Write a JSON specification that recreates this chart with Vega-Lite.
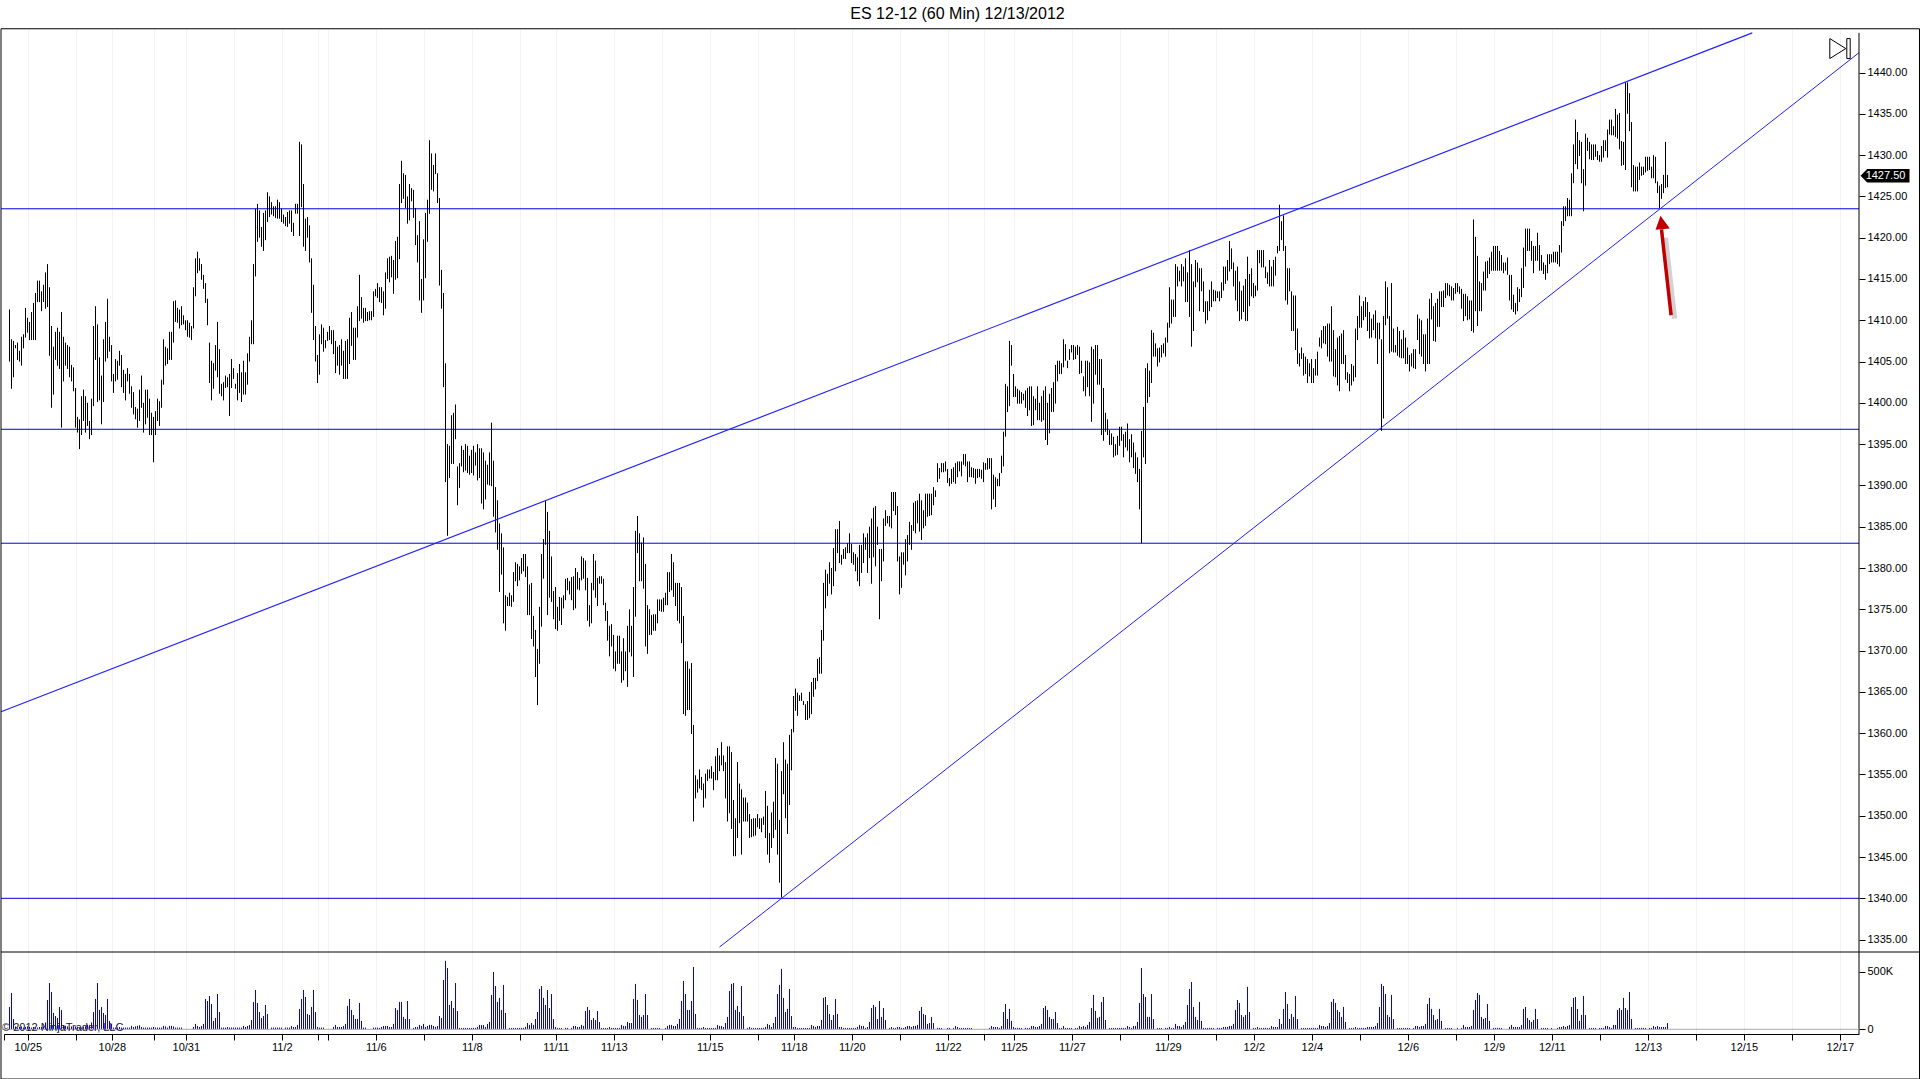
{"$schema":"https://vega.github.io/schema/vega-lite/v6.json","background":"white","padding":{"left":-2,"top":6,"right":0,"bottom":0},"config":{"view":{"stroke":null},"font":"Liberation Sans"},"datasets":{
"bars":[{"i":4,"h":1411.3,"l":1405,"v":195},{"i":5,"h":1407.7,"l":1401.7,"v":317},{"i":6,"h":1407.5,"l":1403.1,"v":90},{"i":7,"h":1407,"l":1406.6,"v":25},{"i":8,"h":1407.3,"l":1405.2,"v":15},{"i":9,"h":1406.3,"l":1405,"v":20},{"i":10,"h":1408,"l":1404.5,"v":25},{"i":11,"h":1408.3,"l":1406.6,"v":15},{"i":12,"h":1411.5,"l":1407.9,"v":20},{"i":13,"h":1410.3,"l":1408.5,"v":25},{"i":14,"h":1409.8,"l":1407.6,"v":20},{"i":15,"h":1411,"l":1407.6,"v":15},{"i":16,"h":1412.1,"l":1407.6,"v":20},{"i":17,"h":1413.3,"l":1407.6,"v":15},{"i":18,"h":1414.8,"l":1412.2,"v":15},{"i":19,"h":1414.8,"l":1412.2,"v":20},{"i":20,"h":1413.5,"l":1411.1,"v":20},{"i":21,"h":1414.3,"l":1412.2,"v":25},{"i":22,"h":1415.8,"l":1411.4,"v":60},{"i":23,"h":1416.8,"l":1411.6,"v":256},{"i":24,"h":1414,"l":1405.7,"v":404},{"i":25,"h":1409.3,"l":1399.4,"v":326},{"i":26,"h":1406.8,"l":1401,"v":143},{"i":27,"h":1408.6,"l":1405.2,"v":116},{"i":28,"h":1409.1,"l":1404.5,"v":99},{"i":29,"h":1408.6,"l":1404.1,"v":195},{"i":30,"h":1411,"l":1397,"v":169},{"i":31,"h":1408,"l":1402.6,"v":35},{"i":32,"h":1407.3,"l":1404.5,"v":30},{"i":33,"h":1407,"l":1404.1,"v":25},{"i":34,"h":1406.8,"l":1403.1,"v":15},{"i":35,"h":1404.6,"l":1402.6,"v":25},{"i":36,"h":1404.3,"l":1401.4,"v":20},{"i":37,"h":1401.8,"l":1397,"v":25},{"i":38,"h":1398.3,"l":1396.4,"v":20},{"i":39,"h":1398,"l":1394.4,"v":15},{"i":40,"h":1400.8,"l":1396.1,"v":15},{"i":41,"h":1401.6,"l":1397.8,"v":20},{"i":42,"h":1400.8,"l":1396.4,"v":25},{"i":43,"h":1400,"l":1397.2,"v":40},{"i":44,"h":1397.8,"l":1395.6,"v":35},{"i":45,"h":1400.5,"l":1396.1,"v":60},{"i":46,"h":1409.3,"l":1399.6,"v":150},{"i":47,"h":1411.7,"l":1405.2,"v":265},{"i":48,"h":1409.5,"l":1400.1,"v":404},{"i":49,"h":1405.5,"l":1400.3,"v":169},{"i":50,"h":1403.3,"l":1397.4,"v":195},{"i":51,"h":1407.7,"l":1400.1,"v":143},{"i":52,"h":1409.8,"l":1405,"v":125},{"i":53,"h":1412.6,"l":1405.4,"v":265},{"i":54,"h":1408,"l":1406.2,"v":73},{"i":55,"h":1407,"l":1402.6,"v":47},{"i":56,"h":1403.5,"l":1401.2,"v":15},{"i":57,"h":1405.3,"l":1402.6,"v":15},{"i":58,"h":1405.1,"l":1402.8,"v":15},{"i":59,"h":1406.3,"l":1404.5,"v":20},{"i":60,"h":1405.8,"l":1401.9,"v":15},{"i":61,"h":1404,"l":1401.2,"v":15},{"i":62,"h":1403.5,"l":1400.3,"v":15},{"i":63,"h":1404.2,"l":1402.6,"v":15},{"i":64,"h":1403.5,"l":1401.1,"v":15},{"i":65,"h":1402,"l":1399.4,"v":30},{"i":66,"h":1401.3,"l":1398.6,"v":20},{"i":67,"h":1399.5,"l":1398,"v":25},{"i":68,"h":1399.3,"l":1397,"v":30},{"i":69,"h":1401.6,"l":1397.8,"v":35},{"i":70,"h":1403.3,"l":1399.4,"v":20},{"i":71,"h":1400,"l":1396.4,"v":15},{"i":72,"h":1401.6,"l":1397.4,"v":15},{"i":73,"h":1401.6,"l":1398.2,"v":15},{"i":74,"h":1400.5,"l":1396.1,"v":15},{"i":75,"h":1398.8,"l":1396.1,"v":15},{"i":76,"h":1398.3,"l":1392.8,"v":20},{"i":77,"h":1399,"l":1396.1,"v":15},{"i":78,"h":1400.5,"l":1397.8,"v":15},{"i":79,"h":1400.2,"l":1397.2,"v":15},{"i":80,"h":1402.8,"l":1399.4,"v":15},{"i":81,"h":1407.7,"l":1402.2,"v":30},{"i":82,"h":1406.8,"l":1404.5,"v":25},{"i":83,"h":1406.6,"l":1404.7,"v":15},{"i":84,"h":1408.6,"l":1405.2,"v":30},{"i":85,"h":1408.6,"l":1405.2,"v":30},{"i":86,"h":1412.3,"l":1407.3,"v":25},{"i":87,"h":1412.4,"l":1409.8,"v":15},{"i":88,"h":1411.5,"l":1409.7,"v":15},{"i":89,"h":1411.3,"l":1409,"v":15},{"i":90,"h":1411.7,"l":1409.4,"v":15},{"i":91,"h":1410.6,"l":1409.5,"v":0},{"i":92,"h":1410,"l":1408.8,"v":0},{"i":93,"h":1410,"l":1408,"v":0},{"i":94,"h":1409.7,"l":1407.9,"v":0},{"i":95,"h":1409.3,"l":1407.6,"v":0},{"i":96,"h":1414,"l":1409,"v":20},{"i":97,"h":1417.5,"l":1412.9,"v":47},{"i":98,"h":1418.3,"l":1415.7,"v":29},{"i":99,"h":1417.5,"l":1416,"v":20},{"i":100,"h":1416.8,"l":1414.9,"v":29},{"i":101,"h":1415.5,"l":1413.8,"v":47},{"i":102,"h":1414.5,"l":1412.1,"v":265},{"i":103,"h":1412.6,"l":1409.4,"v":247},{"i":104,"h":1407.3,"l":1402.4,"v":291},{"i":105,"h":1405.1,"l":1400.3,"v":221},{"i":106,"h":1404.8,"l":1401.7,"v":73},{"i":107,"h":1407,"l":1403.9,"v":99},{"i":108,"h":1409.8,"l":1403.1,"v":308},{"i":109,"h":1406.5,"l":1401.1,"v":151},{"i":110,"h":1402.3,"l":1400.8,"v":15},{"i":111,"h":1402.5,"l":1400.3,"v":15},{"i":112,"h":1403.3,"l":1401.8,"v":15},{"i":113,"h":1403.1,"l":1401.9,"v":20},{"i":114,"h":1403.5,"l":1398.4,"v":15},{"i":115,"h":1405.3,"l":1401.8,"v":15},{"i":116,"h":1404.2,"l":1402.9,"v":15},{"i":117,"h":1402.3,"l":1401.7,"v":15},{"i":118,"h":1403.6,"l":1400.3,"v":15},{"i":119,"h":1404.7,"l":1401.2,"v":15},{"i":120,"h":1403.7,"l":1400.1,"v":15},{"i":121,"h":1405.1,"l":1401,"v":29},{"i":122,"h":1403.7,"l":1401,"v":20},{"i":123,"h":1406,"l":1402.2,"v":29},{"i":124,"h":1408,"l":1405,"v":38},{"i":125,"h":1410,"l":1407.1,"v":81},{"i":126,"h":1416.8,"l":1407.1,"v":239},{"i":127,"h":1423.5,"l":1415.3,"v":343},{"i":128,"h":1424.1,"l":1419.5,"v":230},{"i":129,"h":1423.3,"l":1420,"v":151},{"i":130,"h":1421.3,"l":1418.9,"v":99},{"i":131,"h":1423,"l":1418.4,"v":116},{"i":132,"h":1423.3,"l":1419.7,"v":212},{"i":133,"h":1425.5,"l":1421.9,"v":134},{"i":134,"h":1425,"l":1422.5,"v":0},{"i":135,"h":1424.3,"l":1422.8,"v":15},{"i":136,"h":1423.8,"l":1422.6,"v":15},{"i":137,"h":1423.8,"l":1422.4,"v":15},{"i":138,"h":1424.6,"l":1422.3,"v":15},{"i":139,"h":1424.3,"l":1422.3,"v":15},{"i":140,"h":1423.5,"l":1421.9,"v":15},{"i":141,"h":1422.8,"l":1421.7,"v":0},{"i":142,"h":1422.5,"l":1421.4,"v":15},{"i":143,"h":1423.1,"l":1421.3,"v":15},{"i":144,"h":1423.3,"l":1421.7,"v":15},{"i":145,"h":1423.3,"l":1420.7,"v":29},{"i":146,"h":1421.8,"l":1420.2,"v":20},{"i":147,"h":1424.1,"l":1422.9,"v":20},{"i":148,"h":1424.1,"l":1422.9,"v":38},{"i":149,"h":1431.6,"l":1420.2,"v":177},{"i":150,"h":1431.3,"l":1423.7,"v":265},{"i":151,"h":1426.5,"l":1418.9,"v":343},{"i":152,"h":1422.3,"l":1418.4,"v":282},{"i":153,"h":1422.5,"l":1420,"v":134},{"i":154,"h":1421.5,"l":1417,"v":125},{"i":155,"h":1417.5,"l":1410.9,"v":195},{"i":156,"h":1414.3,"l":1407.6,"v":343},{"i":157,"h":1409.3,"l":1405,"v":151},{"i":158,"h":1405.8,"l":1402.4,"v":20},{"i":159,"h":1408.3,"l":1403.4,"v":15},{"i":160,"h":1409.5,"l":1407.1,"v":15},{"i":161,"h":1409.1,"l":1406.2,"v":15},{"i":162,"h":1407.6,"l":1406.6,"v":0},{"i":163,"h":1408.6,"l":1407.5,"v":0},{"i":164,"h":1409.3,"l":1407.6,"v":0},{"i":165,"h":1408.8,"l":1407.1,"v":0},{"i":166,"h":1408.8,"l":1405.9,"v":20},{"i":167,"h":1407.5,"l":1403.6,"v":38},{"i":168,"h":1406.8,"l":1404.5,"v":20},{"i":169,"h":1407,"l":1403.4,"v":20},{"i":170,"h":1407.7,"l":1404.5,"v":20},{"i":171,"h":1406.3,"l":1402.9,"v":29},{"i":172,"h":1407.5,"l":1402.9,"v":47},{"i":173,"h":1407.7,"l":1402.9,"v":204},{"i":174,"h":1410.3,"l":1404.7,"v":265},{"i":175,"h":1411,"l":1406.9,"v":169},{"i":176,"h":1409.1,"l":1405.2,"v":125},{"i":177,"h":1409.1,"l":1405.2,"v":90},{"i":178,"h":1411.7,"l":1407.9,"v":90},{"i":179,"h":1415.5,"l":1409.9,"v":230},{"i":180,"h":1412.8,"l":1410.2,"v":73},{"i":181,"h":1411.5,"l":1409.7,"v":15},{"i":182,"h":1411.5,"l":1409.9,"v":15},{"i":183,"h":1411,"l":1409.9,"v":0},{"i":184,"h":1411.1,"l":1410,"v":0},{"i":185,"h":1411.1,"l":1410,"v":0},{"i":186,"h":1413.5,"l":1410.4,"v":15},{"i":187,"h":1413.8,"l":1412.9,"v":15},{"i":188,"h":1414.5,"l":1412.7,"v":15},{"i":189,"h":1414,"l":1412.2,"v":12},{"i":190,"h":1414,"l":1412.1,"v":20},{"i":191,"h":1413.5,"l":1410.6,"v":29},{"i":192,"h":1415.8,"l":1411.4,"v":29},{"i":193,"h":1417.5,"l":1415,"v":29},{"i":194,"h":1417.7,"l":1414.6,"v":20},{"i":195,"h":1417.8,"l":1415.2,"v":20},{"i":196,"h":1417.3,"l":1413.2,"v":47},{"i":197,"h":1419.6,"l":1414.9,"v":186},{"i":198,"h":1420.1,"l":1415.1,"v":169},{"i":199,"h":1426.5,"l":1417.4,"v":239},{"i":200,"h":1429.3,"l":1424.2,"v":239},{"i":201,"h":1427.8,"l":1424.7,"v":108},{"i":202,"h":1427.6,"l":1423.6,"v":90},{"i":203,"h":1425,"l":1421.7,"v":247},{"i":204,"h":1426.5,"l":1422.1,"v":90},{"i":205,"h":1426,"l":1424.4,"v":0},{"i":206,"h":1425.8,"l":1422.4,"v":12},{"i":207,"h":1423.6,"l":1419.1,"v":20},{"i":208,"h":1420.3,"l":1417,"v":20},{"i":209,"h":1422,"l":1412.4,"v":38},{"i":210,"h":1415,"l":1410.9,"v":29},{"i":211,"h":1419.8,"l":1412.4,"v":47},{"i":212,"h":1423,"l":1415.1,"v":20},{"i":213,"h":1424.6,"l":1419.5,"v":29},{"i":214,"h":1431.8,"l":1422.9,"v":38},{"i":215,"h":1430.2,"l":1425.8,"v":38},{"i":216,"h":1428.8,"l":1425.6,"v":29},{"i":217,"h":1430.2,"l":1427.7,"v":20},{"i":218,"h":1427.8,"l":1424.2,"v":29},{"i":219,"h":1424.8,"l":1414.2,"v":116},{"i":220,"h":1416.1,"l":1411.4,"v":99},{"i":221,"h":1413.3,"l":1401.9,"v":431},{"i":222,"h":1404.8,"l":1390.4,"v":597},{"i":223,"h":1395,"l":1383.9,"v":535},{"i":224,"h":1394.8,"l":1390.9,"v":212},{"i":225,"h":1398.5,"l":1392.6,"v":247},{"i":226,"h":1398.8,"l":1392.6,"v":186},{"i":227,"h":1399.8,"l":1395.6,"v":404},{"i":228,"h":1392.3,"l":1387.6,"v":160},{"i":229,"h":1392.7,"l":1389.7,"v":12},{"i":230,"h":1394.8,"l":1392.3,"v":12},{"i":231,"h":1394.3,"l":1391.6,"v":12},{"i":232,"h":1395,"l":1391.8,"v":12},{"i":233,"h":1394.8,"l":1391.5,"v":12},{"i":234,"h":1393.6,"l":1391.3,"v":12},{"i":235,"h":1394.3,"l":1391.5,"v":12},{"i":236,"h":1394.8,"l":1391.2,"v":12},{"i":237,"h":1394,"l":1392.4,"v":12},{"i":238,"h":1395,"l":1390.6,"v":20},{"i":239,"h":1394.5,"l":1390.9,"v":38},{"i":240,"h":1394.5,"l":1387.8,"v":38},{"i":241,"h":1394,"l":1387.1,"v":38},{"i":242,"h":1393,"l":1388.3,"v":20},{"i":243,"h":1392.5,"l":1390.1,"v":47},{"i":244,"h":1394,"l":1390,"v":64},{"i":245,"h":1397.6,"l":1389.9,"v":300},{"i":246,"h":1393,"l":1386.2,"v":500},{"i":247,"h":1389.8,"l":1384.3,"v":378},{"i":248,"h":1388.2,"l":1382.2,"v":239},{"i":249,"h":1385.4,"l":1377.1,"v":274},{"i":250,"h":1384.2,"l":1379.2,"v":169},{"i":251,"h":1382.5,"l":1373.3,"v":387},{"i":252,"h":1376.7,"l":1372.4,"v":143},{"i":253,"h":1376.5,"l":1375.4,"v":0},{"i":254,"h":1377,"l":1375.4,"v":12},{"i":255,"h":1376.7,"l":1375.3,"v":12},{"i":256,"h":1379.5,"l":1375.9,"v":12},{"i":257,"h":1380.7,"l":1378.4,"v":12},{"i":258,"h":1380.5,"l":1377.8,"v":12},{"i":259,"h":1380.2,"l":1378.5,"v":12},{"i":260,"h":1381.2,"l":1379.3,"v":12},{"i":261,"h":1381.7,"l":1379.6,"v":12},{"i":262,"h":1381.7,"l":1378.9,"v":20},{"i":263,"h":1380.2,"l":1374.3,"v":55},{"i":264,"h":1378,"l":1374.3,"v":38},{"i":265,"h":1378.2,"l":1371.4,"v":55},{"i":266,"h":1374.2,"l":1370.5,"v":38},{"i":267,"h":1372.5,"l":1366.8,"v":90},{"i":268,"h":1370.2,"l":1363.4,"v":151},{"i":269,"h":1375.3,"l":1368.4,"v":352},{"i":270,"h":1381.7,"l":1372.9,"v":378},{"i":271,"h":1383.5,"l":1378.7,"v":274},{"i":272,"h":1388.1,"l":1382.8,"v":212},{"i":273,"h":1386.8,"l":1374.3,"v":343},{"i":274,"h":1384.5,"l":1376.4,"v":186},{"i":275,"h":1381.4,"l":1375.9,"v":308},{"i":276,"h":1377.2,"l":1373.8,"v":90},{"i":277,"h":1377.7,"l":1372.6,"v":20},{"i":278,"h":1375.3,"l":1372.4,"v":12},{"i":279,"h":1376.5,"l":1373.6,"v":12},{"i":280,"h":1376.4,"l":1373.1,"v":12},{"i":281,"h":1376.7,"l":1375.1,"v":0},{"i":282,"h":1378.7,"l":1376.1,"v":12},{"i":283,"h":1378.8,"l":1377.3,"v":12},{"i":284,"h":1378.4,"l":1376.8,"v":0},{"i":285,"h":1378.9,"l":1376.1,"v":12},{"i":286,"h":1379,"l":1374.9,"v":29},{"i":287,"h":1380,"l":1375.1,"v":29},{"i":288,"h":1379.5,"l":1377.4,"v":20},{"i":289,"h":1378.8,"l":1377.3,"v":20},{"i":290,"h":1381.4,"l":1378.5,"v":38},{"i":291,"h":1381.2,"l":1378.7,"v":29},{"i":292,"h":1380.9,"l":1377.3,"v":160},{"i":293,"h":1378.8,"l":1373.6,"v":195},{"i":294,"h":1375.5,"l":1372.9,"v":169},{"i":295,"h":1378.2,"l":1373.3,"v":81},{"i":296,"h":1381.7,"l":1377.3,"v":99},{"i":297,"h":1380.9,"l":1376.4,"v":81},{"i":298,"h":1378.8,"l":1375.4,"v":160},{"i":299,"h":1379,"l":1378.1,"v":64},{"i":300,"h":1379,"l":1378.1,"v":12},{"i":301,"h":1378.7,"l":1375.5,"v":12},{"i":302,"h":1375.8,"l":1373.6,"v":12},{"i":303,"h":1374.8,"l":1371.2,"v":12},{"i":304,"h":1373,"l":1369.3,"v":20},{"i":305,"h":1373.2,"l":1370.5,"v":12},{"i":306,"h":1371.9,"l":1367.8,"v":12},{"i":307,"h":1369.9,"l":1367.5,"v":12},{"i":308,"h":1371.8,"l":1368.4,"v":12},{"i":309,"h":1371.8,"l":1368.4,"v":12},{"i":310,"h":1369.9,"l":1366.1,"v":38},{"i":311,"h":1371.5,"l":1366.4,"v":29},{"i":312,"h":1369.9,"l":1367.5,"v":29},{"i":313,"h":1373,"l":1365.6,"v":64},{"i":314,"h":1375,"l":1369.8,"v":55},{"i":315,"h":1373,"l":1369.3,"v":55},{"i":316,"h":1377.7,"l":1366.8,"v":265},{"i":317,"h":1384.5,"l":1374.1,"v":396},{"i":318,"h":1386.3,"l":1381.8,"v":256},{"i":319,"h":1384.2,"l":1378.4,"v":125},{"i":320,"h":1383.1,"l":1378.4,"v":108},{"i":321,"h":1383.7,"l":1377.5,"v":125},{"i":322,"h":1380.5,"l":1370.5,"v":308},{"i":323,"h":1375.5,"l":1369.6,"v":125},{"i":324,"h":1375,"l":1371.9,"v":0},{"i":325,"h":1374.3,"l":1371.9,"v":12},{"i":326,"h":1374.4,"l":1372.4,"v":12},{"i":327,"h":1374.4,"l":1372.4,"v":12},{"i":328,"h":1376.2,"l":1373.3,"v":12},{"i":329,"h":1376.2,"l":1374.8,"v":12},{"i":330,"h":1376.2,"l":1374.7,"v":0},{"i":331,"h":1376.4,"l":1374.7,"v":0},{"i":332,"h":1377,"l":1375.5,"v":12},{"i":333,"h":1379.5,"l":1375.5,"v":29},{"i":334,"h":1379.5,"l":1377.1,"v":38},{"i":335,"h":1381.7,"l":1377.3,"v":38},{"i":336,"h":1380.7,"l":1376.5,"v":29},{"i":337,"h":1378.2,"l":1375.4,"v":29},{"i":338,"h":1378.2,"l":1373.6,"v":47},{"i":339,"h":1378.2,"l":1373.3,"v":90},{"i":340,"h":1377.7,"l":1370.9,"v":247},{"i":341,"h":1374.2,"l":1362.3,"v":422},{"i":342,"h":1368.7,"l":1362.1,"v":308},{"i":343,"h":1368.7,"l":1362.8,"v":169},{"i":344,"h":1367.8,"l":1362.8,"v":169},{"i":345,"h":1368.5,"l":1359.9,"v":247},{"i":346,"h":1361,"l":1349.3,"v":544},{"i":347,"h":1354.9,"l":1352.1,"v":134},{"i":348,"h":1354.4,"l":1352.8,"v":12},{"i":349,"h":1355.6,"l":1353.3,"v":12},{"i":350,"h":1354.7,"l":1353.1,"v":12},{"i":351,"h":1353.9,"l":1351,"v":20},{"i":352,"h":1355.1,"l":1352.1,"v":12},{"i":353,"h":1355.6,"l":1354.2,"v":12},{"i":354,"h":1355.6,"l":1354.5,"v":12},{"i":355,"h":1356,"l":1354.5,"v":12},{"i":356,"h":1355.3,"l":1353.1,"v":12},{"i":357,"h":1357.2,"l":1354.3,"v":12},{"i":358,"h":1358.2,"l":1354.3,"v":38},{"i":359,"h":1357.3,"l":1355.4,"v":29},{"i":360,"h":1358.9,"l":1356.1,"v":29},{"i":361,"h":1357.3,"l":1355.4,"v":20},{"i":362,"h":1356.5,"l":1352.1,"v":55},{"i":363,"h":1358.4,"l":1349.3,"v":108},{"i":364,"h":1358.4,"l":1350.3,"v":335},{"i":365,"h":1357.7,"l":1348.4,"v":396},{"i":366,"h":1351.9,"l":1345.1,"v":404},{"i":367,"h":1349.7,"l":1345.1,"v":169},{"i":368,"h":1356.5,"l":1347.3,"v":204},{"i":369,"h":1353.9,"l":1349.1,"v":151},{"i":370,"h":1353.2,"l":1345.3,"v":378},{"i":371,"h":1352.2,"l":1349.3,"v":116},{"i":372,"h":1352.2,"l":1349.3,"v":0},{"i":373,"h":1351.6,"l":1349.3,"v":12},{"i":374,"h":1350.2,"l":1347.3,"v":20},{"i":375,"h":1349.6,"l":1347.4,"v":12},{"i":376,"h":1349.7,"l":1347.5,"v":12},{"i":377,"h":1349.7,"l":1347.6,"v":12},{"i":378,"h":1350.2,"l":1348.6,"v":12},{"i":379,"h":1349.7,"l":1348.4,"v":12},{"i":380,"h":1349.7,"l":1348,"v":12},{"i":381,"h":1349.9,"l":1348.9,"v":12},{"i":382,"h":1353,"l":1347.3,"v":20},{"i":383,"h":1351.2,"l":1345.3,"v":47},{"i":384,"h":1347.9,"l":1344.3,"v":38},{"i":385,"h":1350.4,"l":1346.1,"v":20},{"i":386,"h":1351.7,"l":1347.3,"v":55},{"i":387,"h":1357,"l":1348.3,"v":108},{"i":388,"h":1356.3,"l":1345.3,"v":308},{"i":389,"h":1349.5,"l":1341.9,"v":387},{"i":390,"h":1355.4,"l":1340.1,"v":527},{"i":391,"h":1358.9,"l":1352.6,"v":274},{"i":392,"h":1356.8,"l":1349.7,"v":151},{"i":393,"h":1356.3,"l":1347.8,"v":178},{"i":394,"h":1359.8,"l":1351.3,"v":352},{"i":395,"h":1360.5,"l":1355.5,"v":116},{"i":396,"h":1364.5,"l":1360.1,"v":20},{"i":397,"h":1365.4,"l":1362.7,"v":20},{"i":398,"h":1364.9,"l":1362.1,"v":12},{"i":399,"h":1364.6,"l":1363.9,"v":12},{"i":400,"h":1364.9,"l":1363.9,"v":12},{"i":401,"h":1363.9,"l":1363.4,"v":12},{"i":402,"h":1363.5,"l":1361.6,"v":12},{"i":403,"h":1363.9,"l":1361.6,"v":12},{"i":404,"h":1365,"l":1361.8,"v":12},{"i":405,"h":1366.2,"l":1362.3,"v":38},{"i":406,"h":1366.7,"l":1364.4,"v":29},{"i":407,"h":1366.7,"l":1365.3,"v":20},{"i":408,"h":1369,"l":1366.3,"v":29},{"i":409,"h":1369.2,"l":1367.2,"v":29},{"i":410,"h":1372.5,"l":1367.2,"v":81},{"i":411,"h":1378.2,"l":1371.2,"v":274},{"i":412,"h":1379.8,"l":1375.1,"v":282},{"i":413,"h":1379.3,"l":1376.6,"v":212},{"i":414,"h":1380.7,"l":1378.1,"v":134},{"i":415,"h":1380,"l":1376.8,"v":81},{"i":416,"h":1382.4,"l":1377.8,"v":125},{"i":417,"h":1384.7,"l":1379.6,"v":265},{"i":418,"h":1384.7,"l":1381.8,"v":134},{"i":419,"h":1385.7,"l":1380.6,"v":20},{"i":420,"h":1381.6,"l":1380.4,"v":20},{"i":421,"h":1382.3,"l":1381.1,"v":12},{"i":422,"h":1382.5,"l":1381.1,"v":12},{"i":423,"h":1383,"l":1381.8,"v":12},{"i":424,"h":1384.2,"l":1381.8,"v":12},{"i":425,"h":1382.9,"l":1380.6,"v":12},{"i":426,"h":1381.9,"l":1380.4,"v":12},{"i":427,"h":1381.7,"l":1379.6,"v":12},{"i":428,"h":1381.3,"l":1378.4,"v":20},{"i":429,"h":1382.8,"l":1377.8,"v":38},{"i":430,"h":1382.8,"l":1379.4,"v":29},{"i":431,"h":1384.2,"l":1380.6,"v":29},{"i":432,"h":1383.7,"l":1382.2,"v":12},{"i":433,"h":1384.2,"l":1379.4,"v":20},{"i":434,"h":1385,"l":1381.2,"v":64},{"i":435,"h":1386,"l":1378.1,"v":186},{"i":436,"h":1387.3,"l":1381.3,"v":212},{"i":437,"h":1387.5,"l":1380.2,"v":195},{"i":438,"h":1385,"l":1382.8,"v":90},{"i":439,"h":1382.3,"l":1373.8,"v":247},{"i":440,"h":1382.3,"l":1378.4,"v":108},{"i":441,"h":1386,"l":1380.8,"v":186},{"i":442,"h":1387,"l":1385.1,"v":81},{"i":443,"h":1386.3,"l":1385.4,"v":0},{"i":444,"h":1386.3,"l":1385,"v":12},{"i":445,"h":1389.2,"l":1384.8,"v":20},{"i":446,"h":1389.2,"l":1386.9,"v":12},{"i":447,"h":1389.2,"l":1386.4,"v":12},{"i":448,"h":1387.5,"l":1380.8,"v":20},{"i":449,"h":1381.4,"l":1376.8,"v":20},{"i":450,"h":1381.9,"l":1377.6,"v":12},{"i":451,"h":1381.9,"l":1380.4,"v":12},{"i":452,"h":1383.5,"l":1379.1,"v":20},{"i":453,"h":1384,"l":1380.8,"v":29},{"i":454,"h":1385.6,"l":1382.8,"v":29},{"i":455,"h":1385.2,"l":1382.2,"v":20},{"i":456,"h":1387.9,"l":1384.5,"v":29},{"i":457,"h":1388.1,"l":1384.2,"v":29},{"i":458,"h":1388.2,"l":1385.4,"v":38},{"i":459,"h":1389,"l":1384.4,"v":160},{"i":460,"h":1388.2,"l":1383.4,"v":195},{"i":461,"h":1387,"l":1384.8,"v":134},{"i":462,"h":1389,"l":1385.1,"v":125},{"i":463,"h":1389,"l":1386.2,"v":47},{"i":464,"h":1389,"l":1386.3,"v":55},{"i":465,"h":1389,"l":1386.4,"v":108},{"i":466,"h":1389.8,"l":1387.6,"v":55},{"i":467,"h":1389.4,"l":1388.6,"v":0},{"i":468,"h":1392.7,"l":1390.4,"v":12},{"i":469,"h":1392.1,"l":1390.8,"v":12},{"i":470,"h":1392.7,"l":1391.6,"v":12},{"i":471,"h":1392.7,"l":1391.6,"v":0},{"i":472,"h":1392.9,"l":1391.7,"v":0},{"i":473,"h":1392,"l":1390.3,"v":12},{"i":474,"h":1390.9,"l":1389.9,"v":12},{"i":475,"h":1392,"l":1390.2,"v":0},{"i":476,"h":1392.2,"l":1390.4,"v":12},{"i":477,"h":1392.7,"l":1390.2,"v":29},{"i":478,"h":1392.9,"l":1391,"v":20},{"i":479,"h":1392.9,"l":1391.7,"v":12},{"i":480,"h":1392.9,"l":1391.1,"v":12},{"i":481,"h":1393.8,"l":1392.5,"v":12},{"i":482,"h":1393.8,"l":1392.3,"v":12},{"i":483,"h":1392.9,"l":1390.4,"v":12},{"i":484,"h":1392.9,"l":1391,"v":12},{"i":485,"h":1392.2,"l":1391,"v":12},{"i":486,"h":1392.1,"l":1390.9,"v":0},{"i":487,"h":1392,"l":1390.2,"v":0},{"i":488,"h":1392,"l":1390.9,"v":0},{"i":489,"h":1392,"l":1391,"v":0},{"i":490,"h":1391.9,"l":1390.8,"v":0},{"i":491,"h":1392.8,"l":1390.4,"v":0},{"i":492,"h":1392.7,"l":1391.9,"v":0},{"i":493,"h":1393.3,"l":1391.9,"v":0},{"i":494,"h":1393.3,"l":1392,"v":12},{"i":495,"h":1393.3,"l":1387.1,"v":29},{"i":496,"h":1391.3,"l":1388.3,"v":20},{"i":497,"h":1391,"l":1387.4,"v":20},{"i":498,"h":1390.8,"l":1389.9,"v":20},{"i":499,"h":1391.5,"l":1389.9,"v":12},{"i":500,"h":1393.6,"l":1391.5,"v":29},{"i":501,"h":1396.5,"l":1392.3,"v":151},{"i":502,"h":1402.3,"l":1395.9,"v":221},{"i":503,"h":1402,"l":1398.9,"v":90},{"i":504,"h":1407.5,"l":1399.6,"v":178},{"i":505,"h":1407,"l":1404.5,"v":73},{"i":506,"h":1403.5,"l":1400.7,"v":20},{"i":507,"h":1402,"l":1400.7,"v":12},{"i":508,"h":1401.7,"l":1399.9,"v":12},{"i":509,"h":1401.5,"l":1399.9,"v":12},{"i":510,"h":1401.3,"l":1399.9,"v":12},{"i":511,"h":1401.1,"l":1400.3,"v":0},{"i":512,"h":1401.5,"l":1399.4,"v":12},{"i":513,"h":1401.8,"l":1398.4,"v":12},{"i":514,"h":1402,"l":1399.1,"v":12},{"i":515,"h":1402,"l":1397.2,"v":29},{"i":516,"h":1400.8,"l":1397.3,"v":29},{"i":517,"h":1400.5,"l":1399.1,"v":20},{"i":518,"h":1402,"l":1397.9,"v":20},{"i":519,"h":1400,"l":1397.9,"v":29},{"i":520,"h":1400.8,"l":1397.7,"v":47},{"i":521,"h":1401.5,"l":1397.9,"v":186},{"i":522,"h":1402,"l":1395.5,"v":204},{"i":523,"h":1400,"l":1394.9,"v":169},{"i":524,"h":1401.1,"l":1396.3,"v":108},{"i":525,"h":1401.8,"l":1398.9,"v":90},{"i":526,"h":1402.5,"l":1398.9,"v":90},{"i":527,"h":1404.6,"l":1399.9,"v":151},{"i":528,"h":1405.1,"l":1402.6,"v":55},{"i":529,"h":1405.1,"l":1403.5,"v":12},{"i":530,"h":1404.8,"l":1403.5,"v":12},{"i":531,"h":1407.7,"l":1404.3,"v":29},{"i":532,"h":1407.1,"l":1405.1,"v":12},{"i":533,"h":1405.1,"l":1404.2,"v":12},{"i":534,"h":1406.5,"l":1405.2,"v":12},{"i":535,"h":1407,"l":1406.1,"v":12},{"i":536,"h":1407,"l":1405.2,"v":0},{"i":537,"h":1406.8,"l":1405.3,"v":12},{"i":538,"h":1407,"l":1405.8,"v":12},{"i":539,"h":1406.8,"l":1403.5,"v":29},{"i":540,"h":1405.1,"l":1403.6,"v":20},{"i":541,"h":1403.2,"l":1401.4,"v":29},{"i":542,"h":1405.1,"l":1400.8,"v":20},{"i":543,"h":1405.1,"l":1401.9,"v":38},{"i":544,"h":1404.9,"l":1400.8,"v":64},{"i":545,"h":1406.8,"l":1397.7,"v":186},{"i":546,"h":1406.5,"l":1399.9,"v":300},{"i":547,"h":1407,"l":1403.4,"v":160},{"i":548,"h":1407,"l":1402.2,"v":99},{"i":549,"h":1405.3,"l":1402.2,"v":108},{"i":550,"h":1405.3,"l":1396.1,"v":239},{"i":551,"h":1401.8,"l":1395.4,"v":282},{"i":552,"h":1398.8,"l":1396.5,"v":81},{"i":553,"h":1398,"l":1396.1,"v":0},{"i":554,"h":1396.7,"l":1394.9,"v":12},{"i":555,"h":1396.3,"l":1394.9,"v":12},{"i":556,"h":1395.9,"l":1393.4,"v":12},{"i":557,"h":1395,"l":1393.6,"v":12},{"i":558,"h":1396,"l":1393.7,"v":12},{"i":559,"h":1397.1,"l":1394.8,"v":12},{"i":560,"h":1397.1,"l":1395.4,"v":12},{"i":561,"h":1396.2,"l":1393.4,"v":12},{"i":562,"h":1396.5,"l":1394.6,"v":12},{"i":563,"h":1397.5,"l":1394.2,"v":29},{"i":564,"h":1395.6,"l":1392.8,"v":20},{"i":565,"h":1396.2,"l":1393.4,"v":12},{"i":566,"h":1395.2,"l":1392.1,"v":29},{"i":567,"h":1394,"l":1391.4,"v":29},{"i":568,"h":1393.4,"l":1390.4,"v":64},{"i":569,"h":1392,"l":1387.1,"v":230},{"i":570,"h":1396.6,"l":1383,"v":535},{"i":571,"h":1399.5,"l":1393.4,"v":308},{"i":572,"h":1404.2,"l":1392.6,"v":282},{"i":573,"h":1404.8,"l":1400,"v":108},{"i":574,"h":1403.9,"l":1400.7,"v":108},{"i":575,"h":1408.8,"l":1402.4,"v":308},{"i":576,"h":1408.5,"l":1405.6,"v":90},{"i":577,"h":1407.2,"l":1405.6,"v":0},{"i":578,"h":1406.6,"l":1404.4,"v":12},{"i":579,"h":1406.7,"l":1404.9,"v":12},{"i":580,"h":1407,"l":1405.5,"v":12},{"i":581,"h":1407.2,"l":1406,"v":0},{"i":582,"h":1407.9,"l":1405.6,"v":12},{"i":583,"h":1409.7,"l":1407.3,"v":12},{"i":584,"h":1414,"l":1409.1,"v":20},{"i":585,"h":1412.5,"l":1409.6,"v":12},{"i":586,"h":1412.5,"l":1410.4,"v":12},{"i":587,"h":1416.8,"l":1410.4,"v":47},{"i":588,"h":1416.5,"l":1414.1,"v":29},{"i":589,"h":1416,"l":1414.7,"v":29},{"i":590,"h":1416.8,"l":1414.1,"v":20},{"i":591,"h":1416.5,"l":1414.7,"v":38},{"i":592,"h":1417.5,"l":1412.2,"v":64},{"i":593,"h":1415.8,"l":1412.2,"v":212},{"i":594,"h":1418.5,"l":1410.4,"v":352},{"i":595,"h":1416.8,"l":1406.8,"v":413},{"i":596,"h":1414.7,"l":1408.7,"v":195},{"i":597,"h":1417.3,"l":1414,"v":108},{"i":598,"h":1417,"l":1414.6,"v":81},{"i":599,"h":1416.3,"l":1411.1,"v":239},{"i":600,"h":1416.3,"l":1413.5,"v":73},{"i":601,"h":1414.7,"l":1411,"v":12},{"i":602,"h":1412.3,"l":1409.6,"v":12},{"i":603,"h":1412.3,"l":1410,"v":12},{"i":604,"h":1413.7,"l":1411.1,"v":12},{"i":605,"h":1414.7,"l":1411.6,"v":12},{"i":606,"h":1413.7,"l":1412.3,"v":12},{"i":607,"h":1413.6,"l":1412.3,"v":0},{"i":608,"h":1413.5,"l":1412.7,"v":12},{"i":609,"h":1413.5,"l":1412.3,"v":12},{"i":610,"h":1414.6,"l":1412.7,"v":12},{"i":611,"h":1416.5,"l":1413.6,"v":20},{"i":612,"h":1416.5,"l":1414.4,"v":20},{"i":613,"h":1417.3,"l":1414.8,"v":20},{"i":614,"h":1419.6,"l":1415.9,"v":29},{"i":615,"h":1418.7,"l":1416.2,"v":29},{"i":616,"h":1417,"l":1414.1,"v":47},{"i":617,"h":1416,"l":1412.4,"v":169},{"i":618,"h":1416.5,"l":1411.1,"v":256},{"i":619,"h":1414.7,"l":1409.9,"v":230},{"i":620,"h":1413.6,"l":1410.1,"v":125},{"i":621,"h":1414.2,"l":1411,"v":108},{"i":622,"h":1415,"l":1409.9,"v":125},{"i":623,"h":1417.7,"l":1409.9,"v":370},{"i":624,"h":1415.6,"l":1411.7,"v":151},{"i":625,"h":1416.3,"l":1412.9,"v":0},{"i":626,"h":1414.5,"l":1412.7,"v":12},{"i":627,"h":1414.2,"l":1412.9,"v":12},{"i":628,"h":1418.5,"l":1413.6,"v":20},{"i":629,"h":1418.5,"l":1416.9,"v":12},{"i":630,"h":1418.5,"l":1416.4,"v":12},{"i":631,"h":1418.5,"l":1416.4,"v":12},{"i":632,"h":1416.5,"l":1415.1,"v":12},{"i":633,"h":1415.8,"l":1414.4,"v":12},{"i":634,"h":1417.3,"l":1414.1,"v":12},{"i":635,"h":1416.5,"l":1414.1,"v":29},{"i":636,"h":1417.3,"l":1414.1,"v":20},{"i":637,"h":1417.7,"l":1415.4,"v":20},{"i":638,"h":1419,"l":1418.1,"v":20},{"i":639,"h":1424,"l":1418.4,"v":90},{"i":640,"h":1422,"l":1419.7,"v":47},{"i":641,"h":1422.7,"l":1418.4,"v":178},{"i":642,"h":1419,"l":1412.4,"v":326},{"i":643,"h":1416.3,"l":1411.9,"v":221},{"i":644,"h":1416.3,"l":1413.5,"v":90},{"i":645,"h":1413.5,"l":1408.7,"v":134},{"i":646,"h":1413,"l":1408.7,"v":108},{"i":647,"h":1413,"l":1406.4,"v":291},{"i":648,"h":1409,"l":1404.7,"v":90},{"i":649,"h":1406,"l":1404.4,"v":0},{"i":650,"h":1406.7,"l":1405.3,"v":12},{"i":651,"h":1406,"l":1403.3,"v":12},{"i":652,"h":1405.6,"l":1403.5,"v":12},{"i":653,"h":1405.3,"l":1402.4,"v":12},{"i":654,"h":1404.8,"l":1403.2,"v":12},{"i":655,"h":1405.3,"l":1402.4,"v":12},{"i":656,"h":1404.2,"l":1402.4,"v":12},{"i":657,"h":1405.3,"l":1403.3,"v":12},{"i":658,"h":1406.2,"l":1403.3,"v":12},{"i":659,"h":1407.9,"l":1406.8,"v":38},{"i":660,"h":1408.8,"l":1406.6,"v":29},{"i":661,"h":1409.3,"l":1407.2,"v":29},{"i":662,"h":1409.3,"l":1407.1,"v":20},{"i":663,"h":1409.6,"l":1405.6,"v":29},{"i":664,"h":1409.6,"l":1405,"v":55},{"i":665,"h":1411.7,"l":1405,"v":239},{"i":666,"h":1408.8,"l":1403.2,"v":265},{"i":667,"h":1406.5,"l":1403.1,"v":230},{"i":668,"h":1407.9,"l":1402.1,"v":169},{"i":669,"h":1408.1,"l":1401.4,"v":151},{"i":670,"h":1408.4,"l":1404.7,"v":108},{"i":671,"h":1408.8,"l":1404.7,"v":195},{"i":672,"h":1405.8,"l":1402.8,"v":64},{"i":673,"h":1403.7,"l":1402.4,"v":0},{"i":674,"h":1403.5,"l":1401.4,"v":12},{"i":675,"h":1404.7,"l":1402.1,"v":12},{"i":676,"h":1404.5,"l":1402.6,"v":12},{"i":677,"h":1409,"l":1403.1,"v":20},{"i":678,"h":1410.5,"l":1407.6,"v":12},{"i":679,"h":1413,"l":1409.1,"v":12},{"i":680,"h":1411.7,"l":1409.1,"v":12},{"i":681,"h":1412.3,"l":1410,"v":12},{"i":682,"h":1412.8,"l":1410.4,"v":12},{"i":683,"h":1412.2,"l":1408.7,"v":20},{"i":684,"h":1411,"l":1407.8,"v":20},{"i":685,"h":1410.2,"l":1407.9,"v":20},{"i":686,"h":1410.7,"l":1408.8,"v":20},{"i":687,"h":1411.2,"l":1407.8,"v":29},{"i":688,"h":1409.7,"l":1404.7,"v":55},{"i":689,"h":1409.7,"l":1407.7,"v":195},{"i":690,"h":1407.7,"l":1396.6,"v":396},{"i":691,"h":1410.5,"l":1398.1,"v":378},{"i":692,"h":1414.7,"l":1409.4,"v":308},{"i":693,"h":1414,"l":1410.2,"v":125},{"i":694,"h":1410.5,"l":1406,"v":108},{"i":695,"h":1414.5,"l":1406.2,"v":300},{"i":696,"h":1409,"l":1406.1,"v":90},{"i":697,"h":1407,"l":1406.1,"v":0},{"i":698,"h":1409.2,"l":1405.7,"v":12},{"i":699,"h":1408.7,"l":1405.5,"v":12},{"i":700,"h":1407.7,"l":1405.4,"v":12},{"i":701,"h":1408.8,"l":1405.4,"v":12},{"i":702,"h":1407.9,"l":1404.7,"v":12},{"i":703,"h":1406.7,"l":1404.7,"v":12},{"i":704,"h":1405.8,"l":1403.8,"v":12},{"i":705,"h":1406,"l":1404.4,"v":0},{"i":706,"h":1406.5,"l":1404.2,"v":12},{"i":707,"h":1406.5,"l":1404.1,"v":29},{"i":708,"h":1410.7,"l":1407.6,"v":29},{"i":709,"h":1410.2,"l":1405.9,"v":20},{"i":710,"h":1410,"l":1405.6,"v":29},{"i":711,"h":1408.3,"l":1404.7,"v":29},{"i":712,"h":1408.3,"l":1403.8,"v":47},{"i":713,"h":1410.2,"l":1404.7,"v":221},{"i":714,"h":1412.6,"l":1404.7,"v":274},{"i":715,"h":1413.3,"l":1410.1,"v":178},{"i":716,"h":1411.7,"l":1407.5,"v":125},{"i":717,"h":1412.1,"l":1407.4,"v":81},{"i":718,"h":1412.6,"l":1409.2,"v":90},{"i":719,"h":1413.5,"l":1409.2,"v":178},{"i":720,"h":1413.5,"l":1411.6,"v":73},{"i":721,"h":1413.6,"l":1411.6,"v":0},{"i":722,"h":1414.5,"l":1412.7,"v":12},{"i":723,"h":1414.5,"l":1413,"v":12},{"i":724,"h":1414.3,"l":1412.9,"v":12},{"i":725,"h":1414.1,"l":1412.4,"v":12},{"i":726,"h":1413.9,"l":1412.4,"v":0},{"i":727,"h":1414.5,"l":1413.2,"v":0},{"i":728,"h":1414.5,"l":1413.4,"v":12},{"i":729,"h":1414.1,"l":1413.2,"v":0},{"i":730,"h":1413.8,"l":1411.4,"v":12},{"i":731,"h":1413.2,"l":1409.9,"v":38},{"i":732,"h":1413.2,"l":1410.5,"v":20},{"i":733,"h":1412.9,"l":1410,"v":20},{"i":734,"h":1412.4,"l":1410.1,"v":20},{"i":735,"h":1412.4,"l":1408.7,"v":29},{"i":736,"h":1422.2,"l":1408.5,"v":169},{"i":737,"h":1420.1,"l":1411.1,"v":256},{"i":738,"h":1417.8,"l":1409.3,"v":317},{"i":739,"h":1414.7,"l":1411.1,"v":300},{"i":740,"h":1414.5,"l":1411.1,"v":108},{"i":741,"h":1415.9,"l":1413.6,"v":90},{"i":742,"h":1417.1,"l":1413.6,"v":99},{"i":743,"h":1417.2,"l":1415.1,"v":221},{"i":744,"h":1417.6,"l":1415.6,"v":73},{"i":745,"h":1418.3,"l":1416,"v":0},{"i":746,"h":1419,"l":1416,"v":12},{"i":747,"h":1419,"l":1416,"v":12},{"i":748,"h":1419,"l":1416,"v":12},{"i":749,"h":1418.4,"l":1416,"v":12},{"i":750,"h":1417.9,"l":1416,"v":12},{"i":751,"h":1417,"l":1415.7,"v":0},{"i":752,"h":1417,"l":1416,"v":0},{"i":753,"h":1417.6,"l":1415.5,"v":0},{"i":754,"h":1415.5,"l":1412.4,"v":20},{"i":755,"h":1415.5,"l":1411.3,"v":38},{"i":756,"h":1413.1,"l":1411,"v":20},{"i":757,"h":1412.1,"l":1410.7,"v":20},{"i":758,"h":1414,"l":1411.1,"v":20},{"i":759,"h":1413.8,"l":1412.2,"v":20},{"i":760,"h":1416.3,"l":1412.8,"v":38},{"i":761,"h":1418.8,"l":1413.9,"v":178},{"i":762,"h":1421.1,"l":1416.5,"v":195},{"i":763,"h":1421.1,"l":1418.4,"v":99},{"i":764,"h":1421.1,"l":1418.4,"v":81},{"i":765,"h":1419.6,"l":1417.2,"v":64},{"i":766,"h":1419,"l":1415.7,"v":81},{"i":767,"h":1419,"l":1417.2,"v":178},{"i":768,"h":1420.6,"l":1417.2,"v":90},{"i":769,"h":1419.1,"l":1416,"v":0},{"i":770,"h":1417.9,"l":1416,"v":12},{"i":771,"h":1417,"l":1415.6,"v":12},{"i":772,"h":1416.7,"l":1414.9,"v":12},{"i":773,"h":1418,"l":1415.7,"v":12},{"i":774,"h":1418,"l":1416.8,"v":0},{"i":775,"h":1418,"l":1417,"v":12},{"i":776,"h":1418.3,"l":1417,"v":0},{"i":777,"h":1418.3,"l":1417,"v":0},{"i":778,"h":1418.3,"l":1416.8,"v":12},{"i":779,"h":1419.1,"l":1416.5,"v":20},{"i":780,"h":1422,"l":1418.2,"v":20},{"i":781,"h":1423.8,"l":1421.4,"v":29},{"i":782,"h":1423.8,"l":1422,"v":20},{"i":783,"h":1424.8,"l":1422.6,"v":29},{"i":784,"h":1424.6,"l":1422.6,"v":38},{"i":785,"h":1427.8,"l":1422.6,"v":195},{"i":786,"h":1431.3,"l":1426.6,"v":274},{"i":787,"h":1434.3,"l":1428.9,"v":282},{"i":788,"h":1432.8,"l":1428.3,"v":178},{"i":789,"h":1431.8,"l":1429.9,"v":73},{"i":790,"h":1431.6,"l":1426.6,"v":125},{"i":791,"h":1428.3,"l":1423.2,"v":291},{"i":792,"h":1432.6,"l":1426.3,"v":125},{"i":793,"h":1432.1,"l":1430.5,"v":0},{"i":794,"h":1431.6,"l":1429.5,"v":12},{"i":795,"h":1431.3,"l":1429.4,"v":12},{"i":796,"h":1431.3,"l":1429.4,"v":12},{"i":797,"h":1431.3,"l":1429.8,"v":12},{"i":798,"h":1430.5,"l":1429.4,"v":0},{"i":799,"h":1430,"l":1429.2,"v":12},{"i":800,"h":1431.1,"l":1429.2,"v":12},{"i":801,"h":1431.8,"l":1429.7,"v":12},{"i":802,"h":1431.8,"l":1430.5,"v":29},{"i":803,"h":1433.1,"l":1429.7,"v":29},{"i":804,"h":1434.3,"l":1432.5,"v":20},{"i":805,"h":1434.3,"l":1432.4,"v":12},{"i":806,"h":1433.5,"l":1432.4,"v":38},{"i":807,"h":1435.6,"l":1432.2,"v":38},{"i":808,"h":1434.9,"l":1432,"v":169},{"i":809,"h":1435.1,"l":1430.7,"v":186},{"i":810,"h":1431.7,"l":1428.7,"v":169},{"i":811,"h":1431.6,"l":1428.8,"v":274},{"i":812,"h":1438.8,"l":1428.2,"v":186},{"i":813,"h":1438.8,"l":1435,"v":169},{"i":814,"h":1437.5,"l":1432.9,"v":326},{"i":815,"h":1434,"l":1426.1,"v":90},{"i":816,"h":1428.8,"l":1425.6,"v":0},{"i":817,"h":1428.6,"l":1425.6,"v":12},{"i":818,"h":1428.6,"l":1425.6,"v":12},{"i":819,"h":1429.1,"l":1427,"v":12},{"i":820,"h":1428.6,"l":1427.5,"v":12},{"i":821,"h":1428.6,"l":1427.6,"v":12},{"i":822,"h":1429.8,"l":1427.9,"v":12},{"i":823,"h":1429.8,"l":1428.1,"v":0},{"i":824,"h":1429.8,"l":1428.2,"v":12},{"i":825,"h":1428.6,"l":1427.2,"v":12},{"i":826,"h":1430,"l":1427.2,"v":29},{"i":827,"h":1429.8,"l":1426.6,"v":20},{"i":828,"h":1426.8,"l":1425.4,"v":29},{"i":829,"h":1426.3,"l":1423.6,"v":20},{"i":830,"h":1426.5,"l":1424.7,"v":20},{"i":831,"h":1427.6,"l":1425.4,"v":20},{"i":832,"h":1431.6,"l":1426,"v":20},{"i":833,"h":1427.6,"l":1426.1,"v":55}],
"levels":[{"i":-0.25,"i2":928.75,"p":1423.5},{"i":-0.25,"i2":928.75,"p":1396.8},{"i":-0.25,"i2":928.75,"p":1383},{"i":-0.25,"i2":928.75,"p":1340}],
"trends":[{"id":"upper","i":-0.25,"p":1362.6},{"id":"upper","i":875.4,"p":1444.8},{"id":"lower","i":359,"p":1334.1},{"id":"lower","i":928.75,"p":1442.4}],
"arrow":[{"i":834.8,"p":1410.6},{"i":830,"p":1421}],
"arrowShadow":[{"i":836.6,"p":1410.2},{"i":832,"p":1420}],
"arrowHead":[{"i":829.5,"p":1421.8}],
"endMark":[{"i":918,"p":1442.9}],
"lastPrice":[{"i":942,"p":1427.5,"t":"1427.50"}],
"frameTop":[{"i":-0.25,"i2":959,"p":1445.3,"p2":1445.3},{"i":-0.25,"i2":-0.25,"p":1445.3,"p2":1333.5},{"i":959,"i2":959,"p":1445.3,"p2":1333.5},{"i":928.75,"i2":928.75,"p":1444.8,"p2":1333.5}],
"frameBottom":[{"i":-0.25,"i2":959,"v":674.5,"v2":674.5},{"i":-0.25,"i2":959,"v":-434,"v2":-434},{"i":-0.25,"i2":-0.25,"v":674.5,"v2":-434},{"i":959,"i2":959,"v":674.5,"v2":-434},{"i":928.75,"i2":928.75,"v":674.5,"v2":-41},{"i":-0.25,"i2":928.75,"v":0,"v2":0}],
"copyright":[{"i":0.25,"v":14,"t":"© 2012 NinjaTrader, LLC"}]
},
"title":{"text":"ES 12-12 (60 Min)  12/13/2012","anchor":"middle","frame":"group","fontSize":16,"fontWeight":"normal","font":"Liberation Sans","color":"#000","offset":6,"dx":26},
"spacing":0,"bounds":"flush",
"vconcat":[
{"width":1855,"height":923,"layer":[
{"data":{"name":"levels"},"mark":{"type":"rule","stroke":"#0000e6","strokeWidth":1},"encoding":{"y":{"field":"p","type":"quantitative","scale":{"domain":[1333.5,1445.27],"nice":false,"zero":false},"axis":{"orient":"right","title":null,"values":[1335,1340,1345,1350,1355,1360,1365,1370,1375,1380,1385,1390,1395,1400,1405,1410,1415,1420,1425,1430,1435,1440],"format":".2f","domain":false,"grid":false,"tickColor":"#000","tickSize":6,"labelFont":"Liberation Sans","labelFontSize":11,"labelColor":"#000","labelPadding":2,"labelOverlap":false,"labelFlush":false}},"x":{"field":"i","type":"quantitative","scale":{"domain":[1.25,928.75],"nice":false,"zero":false},"axis":{"title":null,"orient":"bottom","domain":false,"ticks":false,"labels":false,"grid":true,"gridColor":"#f2f2f2","gridWidth":1,"values":[13.15,37.15,55.15,76.15,92.15,116.15,140.15,158.15,163.15,187.15,211.15,235.15,259.15,277.15,306.15,330.15,354.15,378.15,396.15,425.15,449.15,473.15,491.15,506.15,535.15,559.15,583.15,607.15,626.15,655.15,679.15,703.15,727.15,746.15,775.15,799.15,823.15,847.15,871.15,895.15,919.15]}},"x2":{"field":"i2"}}},
{"data":{"name":"bars"},"mark":{"type":"rule","stroke":"#000","strokeWidth":1},"encoding":{"x":{"field":"i","type":"quantitative"},"y":{"field":"h","type":"quantitative"},"y2":{"field":"l"}}},
{"data":{"name":"trends"},"transform":[{"filter":"datum.id==='upper'"}],"mark":{"type":"line","stroke":"#2020ff","strokeWidth":1.15},"encoding":{"x":{"field":"i","type":"quantitative"},"y":{"field":"p","type":"quantitative"}}},
{"data":{"name":"trends"},"transform":[{"filter":"datum.id==='lower'"}],"mark":{"type":"line","stroke":"#2020ff","strokeWidth":1},"encoding":{"x":{"field":"i","type":"quantitative"},"y":{"field":"p","type":"quantitative"}}},
{"data":{"name":"arrowShadow"},"mark":{"type":"line","stroke":"#999","strokeWidth":5,"opacity":0.45},"encoding":{"x":{"field":"i","type":"quantitative"},"y":{"field":"p","type":"quantitative"}}},
{"data":{"name":"arrow"},"mark":{"type":"line","stroke":"#c00000","strokeWidth":3.5},"encoding":{"x":{"field":"i","type":"quantitative"},"y":{"field":"p","type":"quantitative"}}},
{"data":{"name":"arrowHead"},"mark":{"type":"point","filled":true,"opacity":1,"color":"#c00000","size":400,"shape":"M0,-0.7 L-0.5,0.7 L0.93,0.57 Z"},"encoding":{"x":{"field":"i","type":"quantitative"},"y":{"field":"p","type":"quantitative"}}},
{"data":{"name":"endMark"},"mark":{"type":"point","filled":false,"opacity":1,"stroke":"#000","strokeWidth":1,"size":400,"shape":"M-0.77,-1 L0.83,0 L-0.77,1 Z M0.93,-1 L1.27,-1 L1.27,1 L0.93,1 Z"},"encoding":{"x":{"field":"i","type":"quantitative"},"y":{"field":"p","type":"quantitative"}}},
{"data":{"name":"frameTop"},"mark":{"type":"rule","stroke":"#000","strokeWidth":1},"encoding":{"x":{"field":"i","type":"quantitative"},"x2":{"field":"i2"},"y":{"field":"p","type":"quantitative"},"y2":{"field":"p2"}}},
{"data":{"name":"lastPrice"},"mark":{"type":"point","filled":true,"opacity":1,"color":"#000","size":400,"shape":"M-2.5,0 L-1.83,-0.67 L2.4,-0.67 L2.4,0.67 L-1.83,0.67 Z"},"encoding":{"x":{"field":"i","type":"quantitative"},"y":{"field":"p","type":"quantitative"}}},
{"data":{"name":"lastPrice"},"mark":{"type":"text","color":"#fff","font":"Liberation Sans","fontSize":11,"align":"center","baseline":"middle"},"encoding":{"x":{"field":"i","type":"quantitative"},"y":{"field":"p","type":"quantitative"},"text":{"field":"t"}}}
]},
{"width":1855,"height":82,"layer":[
{"data":{"name":"bars"},"mark":{"type":"rule","stroke":"#0000ff","strokeWidth":1},"encoding":{"x":{"field":"i","type":"quantitative","scale":{"domain":[1.25,928.75],"nice":false,"zero":false},"axis":{"title":null,"orient":"bottom","domain":true,"domainColor":"#000","tickColor":"#000","tickSize":6,"grid":true,"gridColor":"#f2f2f2","labelFont":"Liberation Sans","labelFontSize":11,"labelColor":"#000","labelPadding":1,"labelOverlap":false,"labelFlush":false,"values":[1.4,13.15,37.15,55.15,76.15,92.15,116.15,140.15,158.15,163.15,187.15,211.15,235.15,259.15,277.15,306.15,330.15,354.15,378.15,396.15,425.15,449.15,473.15,491.15,506.15,535.15,559.15,583.15,607.15,626.15,655.15,679.15,703.15,727.15,746.15,775.15,799.15,823.15,847.15,871.15,895.15,919.15],"labelExpr":"({'13.15':'10/25','55.15':'10/28','92.15':'10/31','140.15':'11/2','187.15':'11/6','235.15':'11/8','277.15':'11/11','306.15':'11/13','354.15':'11/15','396.15':'11/18','425.15':'11/20','473.15':'11/22','506.15':'11/25','535.15':'11/27','583.15':'11/29','626.15':'12/2','655.15':'12/4','703.15':'12/6','746.15':'12/9','775.15':'12/11','823.15':'12/13','871.15':'12/15','919.15':'12/17'})[''+datum.value] || ''"}},"y":{"field":"v","type":"quantitative","scale":{"domain":[-41,674.5],"nice":false,"zero":false},"axis":{"orient":"right","title":null,"values":[0,500],"labelExpr":"datum.value==0?'0':'500K'","domain":false,"grid":false,"tickColor":"#000","tickSize":6,"labelFont":"Liberation Sans","labelFontSize":11,"labelColor":"#000","labelPadding":2,"labelOverlap":false,"labelFlush":false}},"y2":{"datum":0}}},
{"data":{"name":"frameBottom"},"transform":[{"filter":"datum.i2!==928.75"}],"mark":{"type":"rule","stroke":"#000","strokeWidth":1},"encoding":{"x":{"field":"i","type":"quantitative"},"x2":{"field":"i2"},"y":{"field":"v","type":"quantitative"},"y2":{"field":"v2"}}},
{"data":{"name":"frameBottom"},"transform":[{"filter":"datum.i==928.75"}],"mark":{"type":"rule","stroke":"#000","strokeWidth":1},"encoding":{"x":{"field":"i","type":"quantitative"},"x2":{"field":"i2"},"y":{"field":"v","type":"quantitative"},"y2":{"field":"v2"}}},
{"data":{"name":"frameBottom"},"transform":[{"filter":"datum.v===0&&datum.v2===0"}],"mark":{"type":"rule","stroke":"#a9a9a9","strokeWidth":1},"encoding":{"x":{"field":"i","type":"quantitative"},"x2":{"field":"i2"},"y":{"field":"v","type":"quantitative"},"y2":{"field":"v2"}}},
{"data":{"name":"copyright"},"mark":{"type":"text","color":"#222","font":"Liberation Sans","fontSize":11,"align":"left","baseline":"middle"},"encoding":{"x":{"field":"i","type":"quantitative"},"y":{"field":"v","type":"quantitative"},"text":{"field":"t"}}}
]}
]}
